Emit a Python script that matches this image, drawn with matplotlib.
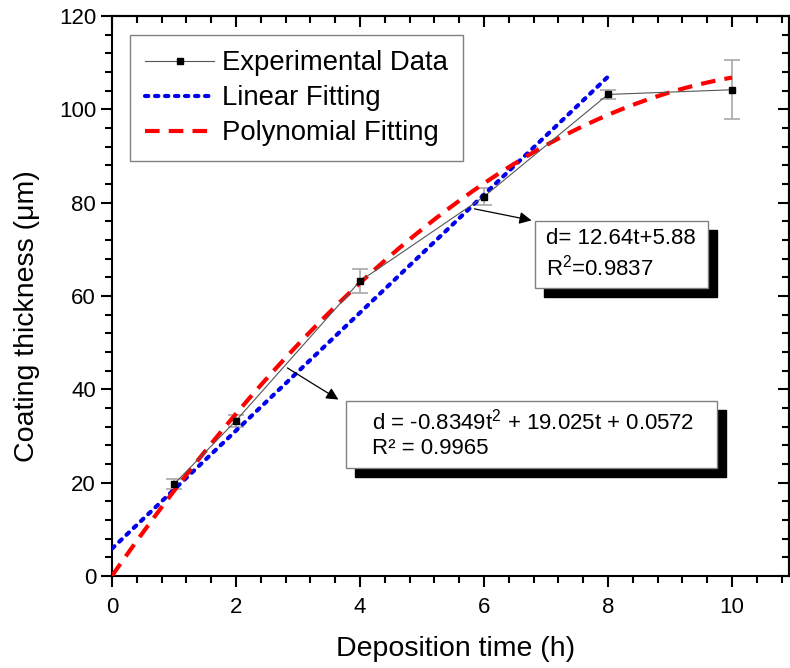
import numpy as np
import matplotlib
matplotlib.use("Agg")
import matplotlib.pyplot as plt
from matplotlib.patches import Rectangle
from matplotlib.ticker import MultipleLocator

plt.rcParams['font.family'] = ['Liberation Sans', 'DejaVu Sans']
plt.rcParams['mathtext.fontset'] = 'custom'
plt.rcParams['mathtext.rm'] = 'Liberation Sans'
plt.rcParams['mathtext.it'] = 'Liberation Sans'

# measured data
time_h = [1, 2, 4, 6, 8, 10]
thickness = [19.7, 33.3, 63.2, 81.3, 103.2, 104.2]
thickness_err = [1.0, 1.3, 2.5, 1.8, 1.0, 6.3]

# fit coefficients as printed on the chart
linear_coef = [12.64, 5.88]
poly_coef = [-0.8349, 19.025, 0.0572]
linear_range = [0, 8]
poly_range = [0, 10]

fig = plt.figure(figsize=(7.9, 6.68), dpi=100)
ax = fig.add_axes([0.1418, 0.1377, 0.857, 0.8383])

t_lin = np.linspace(*linear_range, 200)
t_poly = np.linspace(*poly_range, 200)

ax.errorbar(time_h, thickness, yerr=thickness_err, fmt='none', ecolor='#a8a8a8',
            elinewidth=1.2, capsize=6, capthick=1.2, zorder=2)
exp_line, = ax.plot(time_h, thickness, color='#555555', lw=0.8, marker='s', ms=5,
                    mfc='black', mec='black', zorder=4)
lin_line, = ax.plot(t_lin, np.polyval(linear_coef, t_lin), color='#0000ee', lw=3,
                    linestyle=(0, (0.8, 1.6)), dash_capstyle='round', zorder=3)
poly_line, = ax.plot(t_poly, np.polyval(poly_coef, t_poly), color='#ff0000', lw=3,
                     linestyle=(0, (3.5, 2.2)), zorder=3)

ax.set_xlim(0, 10.92)
ax.set_ylim(0, 120)
ax.xaxis.set_major_locator(MultipleLocator(2))
ax.xaxis.set_minor_locator(MultipleLocator(0.4))
ax.yaxis.set_major_locator(MultipleLocator(20))
ax.yaxis.set_minor_locator(MultipleLocator(4))
ax.tick_params(which='both', direction='out', width=1.5, labelsize=16)
ax.tick_params(which='major', length=8)
ax.tick_params(which='minor', length=5)
ax.tick_params(axis='x', pad=7)
for s in ax.spines.values():
    s.set_linewidth(1.5)

top = ax.secondary_xaxis('top')
top.xaxis.set_major_locator(MultipleLocator(2))
top.xaxis.set_minor_locator(MultipleLocator(0.4))
top.tick_params(which='both', direction='in', width=1.5, labeltop=False)
top.tick_params(which='major', length=8)
top.tick_params(which='minor', length=5)
top.spines['top'].set_linewidth(1.5)
right = ax.secondary_yaxis('right')
right.yaxis.set_major_locator(MultipleLocator(20))
right.yaxis.set_minor_locator(MultipleLocator(4))
right.tick_params(which='both', direction='in', width=1.5, labelright=False)
right.tick_params(which='major', length=8)
right.tick_params(which='minor', length=5)
right.spines['right'].set_linewidth(1.5)

ax.set_xlabel('Deposition time (h)', fontsize=20.5, va='center')
ax.xaxis.set_label_coords(0.507, -0.130)
ax.set_ylabel('Coating thickness (μm)', fontsize=20.5, va='center')
ax.yaxis.set_label_coords(-0.1256, 0.464)

leg = ax.legend([exp_line, lin_line, poly_line],
                ['Experimental Data', 'Linear Fitting', 'Polynomial Fitting'],
                loc='upper left', bbox_to_anchor=(0.0266, 0.966), borderaxespad=0,
                fontsize=19.8, handlelength=2.5, handletextpad=0.3, labelspacing=0.33,
                borderpad=0.55, fancybox=False, framealpha=1, edgecolor='#808080')
leg.get_frame().set_linewidth(1.0)


def shadow_box(x0, y0, x1, y1):
    dx, dy = 0.145, 1.9
    ax.add_patch(Rectangle((x0 + dx, y0 - dy), x1 - x0, y1 - y0, facecolor='black',
                           edgecolor='black', zorder=6))
    ax.add_patch(Rectangle((x0, y0), x1 - x0, y1 - y0, facecolor='white',
                           edgecolor='#808080', lw=1.0, zorder=7))


shadow_box(6.82, 61.7, 9.61, 76.1)
ax.text(7.0, 72.4, 'd= 12.64t+5.88', fontsize=16, va='center', zorder=8)
ax.text(7.0, 66.0, 'R$^2$=0.9837', fontsize=16, va='center', zorder=8)
ax.annotate('', xy=(6.81, 76.1), xytext=(5.80, 78.8),
            arrowprops=dict(arrowstyle='-|>', color='black', lw=0.9, mutation_scale=18),
            zorder=8)

shadow_box(3.77, 23.1, 9.76, 37.5)
ax.text(4.19, 33.2, 'd = -0.8349t$^2$ + 19.025t + 0.0572', fontsize=16, va='center', zorder=8)
ax.text(4.19, 27.3, 'R² = 0.9965', fontsize=16, va='center', zorder=8)
ax.annotate('', xy=(3.69, 37.5), xytext=(2.79, 44.9),
            arrowprops=dict(arrowstyle='-|>', color='black', lw=0.9, mutation_scale=18),
            zorder=8)

fig.savefig('out.png', dpi=100)
